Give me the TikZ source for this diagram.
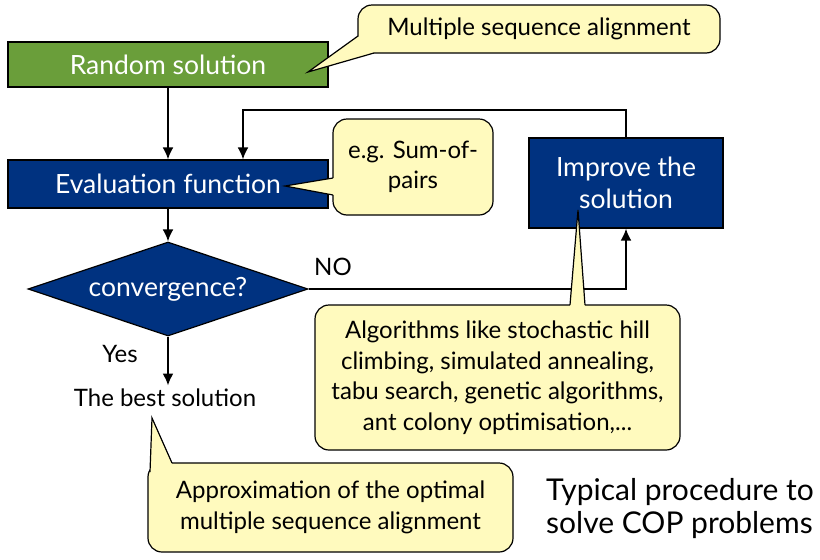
\documentclass[tikz,border=0pt]{standalone}
\usepackage{fontspec}
\setmainfont{Lato}
\usetikzlibrary{shapes.geometric}
\usetikzlibrary{arrows.meta}
\definecolor{boxgreen}{RGB}{106,158,58}
\definecolor{boxblue}{RGB}{0,50,128}
\definecolor{notefill}{RGB}{255,250,190}
\newcommand{\boxfont}{\fontsize{26.5}{32}\selectfont}
\newcommand{\notefont}{\fontsize{24}{30.5}\selectfont}
\newcommand{\titlefont}{\fontsize{30}{33}\selectfont}

\begin{document}
\begin{tikzpicture}[x=1pt,y=-1pt,>={Latex[length=12pt,width=11pt]},
    procbox/.style={draw=black,line width=1.2pt,fill=boxblue,text=white,font=\boxfont,minimum width=320pt,inner sep=0pt},
    note/.style={draw=black,line width=1.2pt,fill=notefill,rounded corners=14pt,font=\notefont,align=center,inner sep=0pt},
    flow/.style={->,line width=2pt}]
    \useasboundingbox (0,0) rectangle (820,560);
    % flow chart
    \node[procbox,fill=boxgreen,minimum height=45pt] (rand) at (168,64.5) {Random solution};
    \node[procbox,minimum height=48pt] (eval) at (168,184) {Evaluation function};
    \node[procbox,shape=diamond,aspect=2.98,minimum width=280pt,minimum height=94pt] (conv) at (168,289) {convergence?};
    \node[procbox,minimum width=194pt,minimum height=90pt,align=center] (impr) at (626,183) {Improve the\\solution};
    \node[font=\notefont] (best) at (165,398) {The best solution};
    \node[font=\notefont] (no) at (333,267) {NO};
    \node[font=\notefont] (yes) at (120,354) {Yes};
    \coordinate (back) at (243,110);
    \draw[flow] (rand) -- (eval);
    \draw[flow] (impr.north) |- (back) -- (back |- eval.north);
    \draw[flow] (eval) -- (conv);
    \draw[flow] (conv.east) -| (impr.south);
    \draw[flow] (conv.south) -- (conv.south |- best.north);
    % notes
    \node[note,minimum width=362pt,minimum height=48pt] (msa) at (539,29) {Multiple sequence alignment};
    \coordinate (msatip) at (308,72);
    \fill[notefill] (358,36) -- (msatip) -- (374,53) -- cycle;
    \draw[line width=1.2pt] (358,36) -- (msatip) -- (374,53);
    \node[note,minimum width=160pt,minimum height=96pt] (sop) at (413,167) {e.g. Sum-of-\\pairs};
    \coordinate (soptip) at (285,186);
    \fill[notefill] (334,178) -- (soptip) -- (334,195) -- cycle;
    \draw[line width=1.2pt] (333,178) -- (soptip) -- (333,195);
    \node[note,minimum width=365pt,minimum height=145pt] (algs) at (497.5,377.5) {Algorithms like stochastic hill\\climbing, simulated annealing,\\tabu search, genetic algorithms,\\ant colony optimisation,...};
    \coordinate (algstip) at (578,210);
    \fill[notefill] (570,306) -- (algstip) -- (585,306) -- cycle;
    \draw[line width=1.2pt] (570,305) -- (algstip) -- (585,305);
    \node[note,minimum width=365pt,minimum height=89pt] (approx) at (330.5,507.5) {Approximation of the optimal\\multiple sequence alignment};
    \coordinate (approxtip) at (152,418);
    \fill[notefill] (150,472) -- (approxtip) -- (172,464) -- cycle;
    \draw[line width=1.2pt] (150,472) -- (approxtip) -- (172,463);
    \node[font=\titlefont,align=left] (title) at (680,509) {Typical procedure to\\solve COP problems};
\end{tikzpicture}
\end{document}
